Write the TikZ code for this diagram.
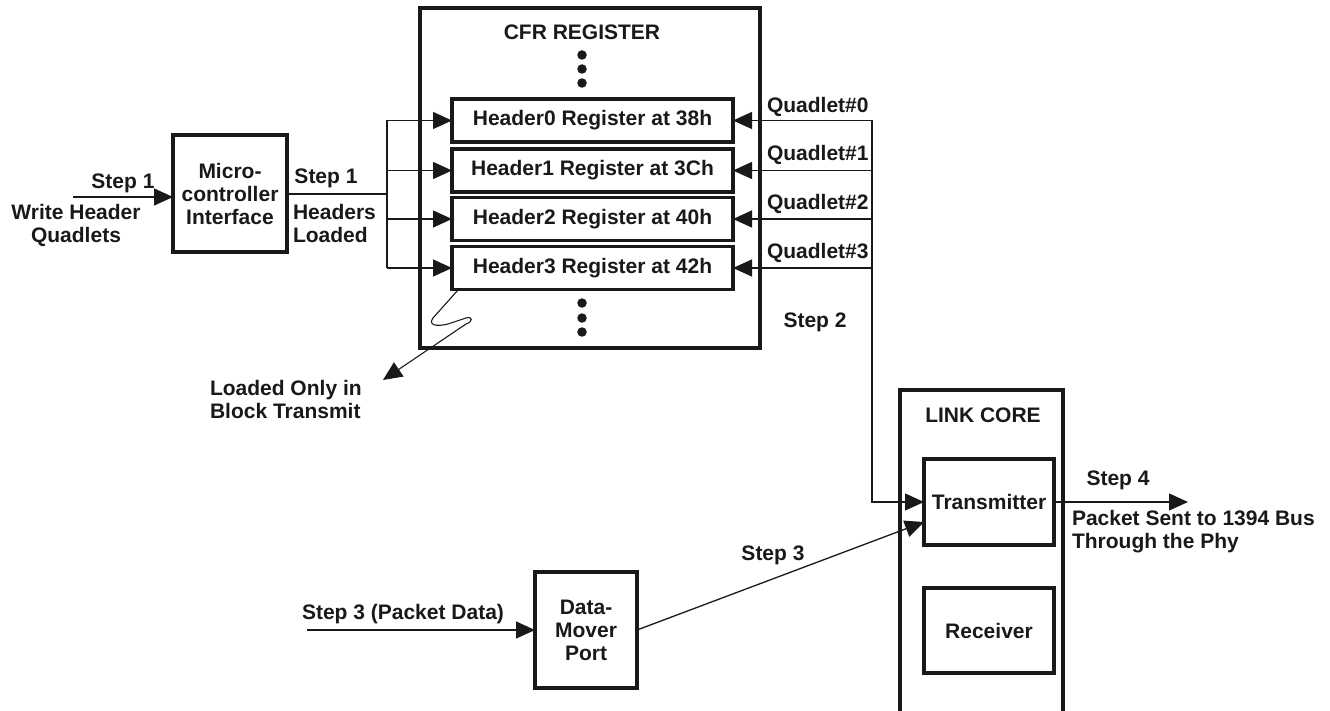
\documentclass[tikz,border=0pt]{standalone}
\usepackage{fontspec}
\setmainfont{Liberation Sans}
\usetikzlibrary{arrows.meta}
\begin{document}
\begin{tikzpicture}[x=1pt,y=-1pt,
  every node/.style={font=\fontsize{21}{23}\selectfont\bfseries, inner sep=0pt, outer sep=0pt, text=black!90},
  box/.style={draw=black!90, line width=3.6pt, align=center},
  thinline/.style={draw=black!90, line width=1.3pt},
  arr/.style={thinline, -{Triangle[length=19pt 0 0,width=17pt 0 0]}},
  dot/.style={fill=black!90, circle, minimum size=9.5pt},
  lbl/.style={align=left, anchor=west},
]
\useasboundingbox (0,0) rectangle (1330,711);

% CFR register
\node[box, minimum width=340pt, minimum height=340pt] (cfr) at (590,178) {};
\node (cfrt) at (582,32) {CFR REGISTER};
\node[dot] (d1) at (582,55) {};
\node[dot] (d2) at (582,69) {};
\node[dot] (d3) at (582,83) {};
\node[dot] (d4) at (582,303) {};
\node[dot] (d5) at (582,318) {};
\node[dot] (d6) at (582,332) {};

\node[box, minimum width=281pt, minimum height=43pt] (h0) at (592.5,120.5) {Header0 Register at 38h};
\node[box, minimum width=281pt, minimum height=43pt] (h1) at (592.5,170.5) {Header1 Register at 3Ch};
\node[box, minimum width=281pt, minimum height=43pt] (h2) at (592.5,219) {Header2 Register at 40h};
\node[box, minimum width=281pt, minimum height=43pt] (h3) at (592.5,268) {Header3 Register at 42h};

% Microcontroller interface
\node[box, minimum width=114pt, minimum height=117pt] (mc) at (230,193.5) {Micro-\\controller\\Interface};
\coordinate (in1) at (73,197);
\draw[arr] (in1) -- (in1 -| mc.west);
\node (s1a) at (123,183) {Step 1};
\node[align=center] (wh) at (76,225.5) {Write Header\\Quadlets};

\coordinate (bus) at (387,194);
\draw[thinline] (mc.east |- bus) -- (bus);
\draw[thinline] (bus |- h0.west) -- (bus |- h3.west);
\draw[arr] (bus |- h0.west) -- (h0.west);
\draw[arr] (bus |- h1.west) -- (h1.west);
\draw[arr] (bus |- h2.west) -- (h2.west);
\draw[arr] (bus |- h3.west) -- (h3.west);
\node (s1b) at (326,178) {Step 1};
\node[lbl] (hl) at (293,223.5) {Headers\\Loaded};

% squiggle note
\coordinate (sqs) at (458,290);
\coordinate (sqe) at (383,380);
\draw[thinline, line width=1.1pt, -{Triangle[length=19pt 0 0,width=17pt 0 0]}] (sqs) -- (433,318)
  .. controls (428,325) and (436,327) .. (448,324) -- (466,318)
  .. controls (473,316) and (473,322) .. (466,324) -- (sqe);
\node[lbl] (lo) at (210,399.5) {Loaded Only in\\Block Transmit};

% Link core
\coordinate (lcbl) at (900,713);
\coordinate (lcbr) at (1063,713);
\draw[draw=black!90, line width=3.6pt] (lcbl) -- (900,390) -- (1063,390) -- (lcbr);
\node (lct) at (983,415) {LINK CORE};
\node[box, minimum width=130pt, minimum height=86pt] (tx) at (989,502) {Transmitter};
\node[box, minimum width=130pt, minimum height=85pt] (rx) at (989,630.5) {Receiver};

% Quadlets
\coordinate (qx) at (872,120.5);
\draw[arr] (qx |- h0.east) -- (qx |- tx.west) -- (tx.west);
\draw[arr] (qx |- h0.east) -- (h0.east);
\draw[arr] (qx |- h1.east) -- (h1.east);
\draw[arr] (qx |- h2.east) -- (h2.east);
\draw[arr] (qx |- h3.east) -- (h3.east);
\node[anchor=west] (q0) at (767,107) {Quadlet\#0};
\node[anchor=west] (q1) at (767,155) {Quadlet\#1};
\node[anchor=west] (q2) at (767,204) {Quadlet\#2};
\node[anchor=west] (q3) at (767,253) {Quadlet\#3};
\node (s2) at (815,322) {Step 2};

% Step 4
\coordinate (out4) at (1188,502);
\draw[arr] (tx.east) -- (out4);
\node (s4) at (1118,480) {Step 4};
\node[lbl] (ps) at (1072,532) {Packet Sent to 1394 Bus\\Through the Phy};

% Data mover
\node[box, minimum width=102pt, minimum height=116pt] (dm) at (586,630) {Data-\\Mover\\Port};
\coordinate (in3) at (307,630);
\draw[arr] (in3) -- (dm.west);
\node (s3a) at (403,614) {Step 3 (Packet Data)};
\coordinate (t3) at (924,522);
\draw[arr] (dm.east) -- (t3);
\node (s3b) at (773,555) {Step 3};
\end{tikzpicture}
\end{document}
